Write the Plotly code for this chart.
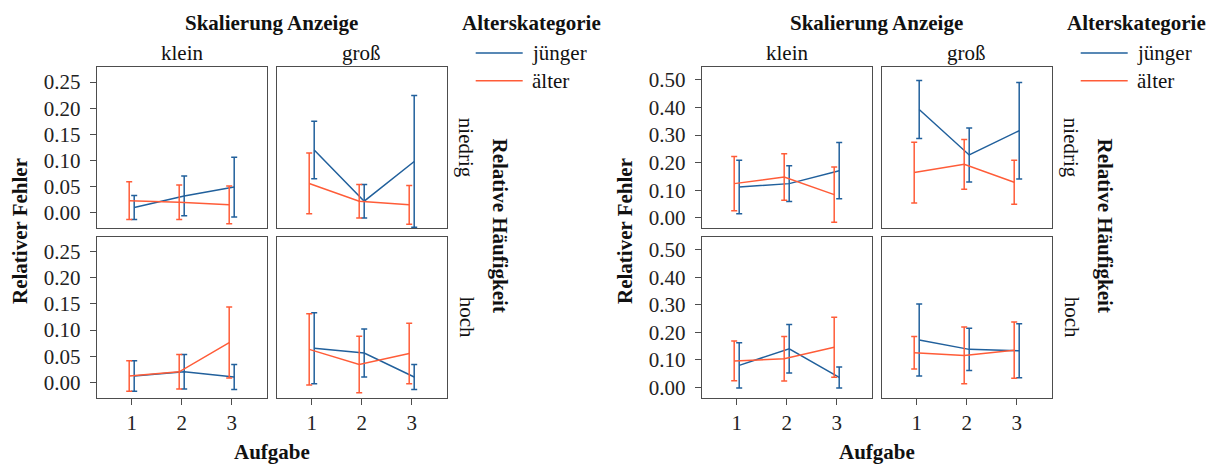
import plotly.graph_objects as go

W, H = 1215, 465

aufgaben = [1, 2, 3]
skalierung = ["klein", "groß"]
haeufigkeit = ["niedrig", "hoch"]
gruppen = ["jünger", "älter"]

# Chart A: left chart (Relativer Fehler)
a_klein_niedrig_j = [0.010, 0.032, 0.049]
a_klein_niedrig_j_err = [0.023, 0.038, 0.057]
a_klein_niedrig_a = [0.023, 0.020, 0.015]
a_klein_niedrig_a_err = [0.036, 0.033, 0.036]
a_gross_niedrig_j = [0.120, 0.022, 0.098]
a_gross_niedrig_j_err = [0.055, 0.032, 0.126]
a_gross_niedrig_a = [0.056, 0.022, 0.015]
a_gross_niedrig_a_err = [0.058, 0.032, 0.037]
a_klein_hoch_j = [0.012, 0.020, 0.010]
a_klein_hoch_j_err = [0.029, 0.033, 0.024]
a_klein_hoch_a = [0.012, 0.020, 0.076]
a_klein_hoch_a_err = [0.029, 0.033, 0.068]
a_gross_hoch_j = [0.065, 0.056, 0.010]
a_gross_hoch_j_err = [0.068, 0.046, 0.024]
a_gross_hoch_a = [0.063, 0.034, 0.055]
a_gross_hoch_a_err = [0.068, 0.054, 0.058]

# Chart B: right chart
b_klein_niedrig_j = [0.112, 0.124, 0.171]
b_klein_niedrig_j_err = [0.097, 0.065, 0.102]
b_klein_niedrig_a = [0.124, 0.148, 0.084]
b_klein_niedrig_a_err = [0.098, 0.084, 0.100]
b_gross_niedrig_j = [0.393, 0.228, 0.316]
b_gross_niedrig_j_err = [0.105, 0.098, 0.175]
b_gross_niedrig_a = [0.164, 0.194, 0.129]
b_gross_niedrig_a_err = [0.110, 0.090, 0.080]
b_klein_hoch_j = [0.080, 0.140, 0.036]
b_klein_hoch_j_err = [0.082, 0.088, 0.038]
b_klein_hoch_a = [0.096, 0.104, 0.146]
b_klein_hoch_a_err = [0.072, 0.081, 0.109]
b_gross_hoch_j = [0.172, 0.138, 0.133]
b_gross_hoch_j_err = [0.131, 0.077, 0.098]
b_gross_hoch_a = [0.126, 0.116, 0.135]
b_gross_hoch_a_err = [0.059, 0.103, 0.102]

yticks_a = [0.00, 0.05, 0.10, 0.15, 0.20, 0.25]
yticks_b = [0.00, 0.10, 0.20, 0.30, 0.40, 0.50]
xticks = [1, 2, 3]

charts = [
    {
        "data": {
            (0, 0): (a_klein_niedrig_j, a_klein_niedrig_j_err, a_klein_niedrig_a, a_klein_niedrig_a_err),
            (0, 1): (a_gross_niedrig_j, a_gross_niedrig_j_err, a_gross_niedrig_a, a_gross_niedrig_a_err),
            (1, 0): (a_klein_hoch_j, a_klein_hoch_j_err, a_klein_hoch_a, a_klein_hoch_a_err),
            (1, 1): (a_gross_hoch_j, a_gross_hoch_j_err, a_gross_hoch_a, a_gross_hoch_a_err),
        },
        "yticks": yticks_a,
        "yrange": [-0.0293, 0.2787],
        "offset": 0,
    },
    {
        "data": {
            (0, 0): (b_klein_niedrig_j, b_klein_niedrig_j_err, b_klein_niedrig_a, b_klein_niedrig_a_err),
            (0, 1): (b_gross_niedrig_j, b_gross_niedrig_j_err, b_gross_niedrig_a, b_gross_niedrig_a_err),
            (1, 0): (b_klein_hoch_j, b_klein_hoch_j_err, b_klein_hoch_a, b_klein_hoch_a_err),
            (1, 1): (b_gross_hoch_j, b_gross_hoch_j_err, b_gross_hoch_a, b_gross_hoch_a_err),
        },
        "yticks": yticks_b,
        "yrange": [-0.037, 0.547],
        "offset": 605,
    },
]

BLUE = "#21609c"
ORANGE = "#ff5c38"
FRAME = "#4d4d4d"
FONT = "Liberation Serif"
FS = 21
dodge = 0.05


def px(x):
    return x / W


def py(y):
    return 1 - y / H


col_x = [(96.7, 266.7), (276.7, 446.7)]
row_y = [(67.3, 229.0), (237.7, 399.3)]

fig = go.Figure()
layout = {}
annotations = []
shapes = []

for c, ch in enumerate(charts):
    off = ch["offset"]
    for r in range(2):
        for k in range(2):
            i = c * 4 + r * 2 + k + 1
            xa = "x" if i == 1 else f"x{i}"
            ya = "y" if i == 1 else f"y{i}"
            xname = "xaxis" if i == 1 else f"xaxis{i}"
            yname = "yaxis" if i == 1 else f"yaxis{i}"
            mj, ej, ma, ea = ch["data"][(r, k)]
            fig.add_trace(go.Scatter(
                x=[a + dodge for a in aufgaben], y=mj, mode="lines",
                line=dict(color=BLUE, width=1.5),
                error_y=dict(type="data", array=ej, color=BLUE, thickness=1.5, width=3),
                xaxis=xa, yaxis=ya, showlegend=False, name=gruppen[0]))
            fig.add_trace(go.Scatter(
                x=[a - dodge for a in aufgaben], y=ma, mode="lines",
                line=dict(color=ORANGE, width=1.5),
                error_y=dict(type="data", array=ea, color=ORANGE, thickness=1.5, width=3),
                xaxis=xa, yaxis=ya, showlegend=False, name=gruppen[1]))
            x0, x1 = col_x[k]
            y0, y1 = row_y[r]
            layout[xname] = dict(
                domain=[px(x0 + off), px(x1 + off)], range=[0.3, 3.7],
                anchor=ya, showline=True, mirror=True, linecolor=FRAME, linewidth=1.2,
                showgrid=False, zeroline=False,
                tickmode="array", tickvals=xticks,
                ticktext=[str(t) for t in xticks] if r == 1 else ["" for t in xticks],
                ticks="outside" if r == 1 else "", ticklen=6, tickwidth=1.2, tickcolor=FRAME,
                tickfont=dict(family=FONT, size=FS, color="#222"),
                showticklabels=(r == 1), fixedrange=True)
            layout[yname] = dict(
                domain=[py(y1), py(y0)], range=ch["yrange"],
                anchor=xa, showline=True, mirror=True, linecolor=FRAME, linewidth=1.2,
                showgrid=False, zeroline=False,
                tickmode="array", tickvals=ch["yticks"],
                ticktext=[f"{t:.2f}" for t in ch["yticks"]],
                ticks="outside" if k == 0 else "", ticklen=6, tickwidth=1.2, tickcolor=FRAME,
                ticklabelstandoff=5,
                tickfont=dict(family=FONT, size=FS, color="#222"),
                showticklabels=(k == 0), fixedrange=True)

    def ann(text, x, y, bold=False, angle=0, xanchor="center"):
        annotations.append(dict(
            text=f"<b>{text}</b>" if bold else text,
            x=px(x + off), y=py(y), xref="paper", yref="paper",
            xanchor=xanchor, yanchor="middle", showarrow=False, textangle=angle,
            font=dict(family=FONT, size=FS, color="#111")))

    ann("Skalierung Anzeige", 271.7, 22.7, bold=True)
    ann(skalierung[0], 181.7, 53)
    ann(skalierung[1], 361.7, 53)
    ann(haeufigkeit[0], 465.5, 148, angle=90)
    ann(haeufigkeit[1], 466.5, 318.5, angle=90)
    ann("Relative Häufigkeit", 499.5, 226, bold=True, angle=90)
    ann("Relativer Fehler", 20, 232, bold=True, angle=-90)
    ann("Aufgabe", 271.7, 454, bold=True)
    ann("Alterskategorie", 531.7, 22.7, bold=True)
    for j, (g, col) in enumerate(zip(gruppen, [BLUE, ORANGE])):
        yy = 53.3 + j * 27.7
        shapes.append(dict(type="line", xref="paper", yref="paper",
                           x0=px(475.7 + off), x1=px(522.7 + off), y0=py(yy), y1=py(yy),
                           line=dict(color=col, width=1.5)))
        ann(g, 530, yy, xanchor="left")

fig.update_layout(
    width=W, height=H,
    margin=dict(l=0, r=0, t=0, b=0),
    paper_bgcolor="white", plot_bgcolor="white",
    showlegend=False,
    annotations=annotations, shapes=shapes,
    **layout)

fig.write_html("out.html", config={"displayModeBar": False})
